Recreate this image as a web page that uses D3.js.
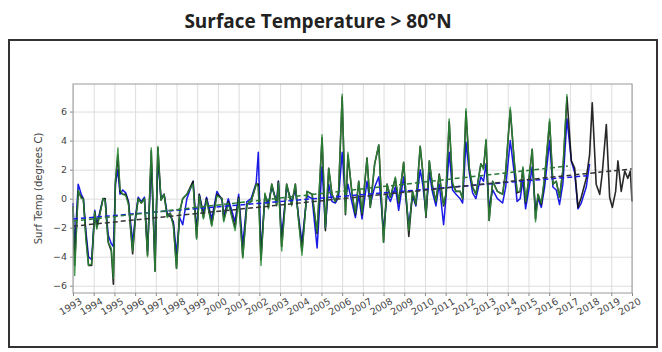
<!DOCTYPE html>
<html>
<head>
<meta charset="utf-8">
<script src="https://cdn.jsdelivr.net/npm/d3@7"></script>
<style>
  body { margin: 0; background: #fff; }
  svg { display: block; }
</style>
</head>
<body>
<div id="chart"></div>
<script>
// decimal years of the turning points
const dates = [
  1993.00, 1993.08, 1993.25, 1993.40, 1993.50, 1993.62, 1993.75, 1993.90, 1994.05, 1994.15,
  1994.30, 1994.45, 1994.55, 1994.70, 1994.85, 1994.95, 1995.05, 1995.17, 1995.27, 1995.40,
  1995.55, 1995.68, 1995.88, 1996.00, 1996.15, 1996.30, 1996.45, 1996.60, 1996.78, 1996.96,
  1997.10, 1997.25, 1997.40, 1997.55, 1997.70, 1997.85, 1998.00, 1998.15, 1998.30, 1998.50,
  1998.80, 1998.97, 1999.10, 1999.30, 1999.45, 1999.70, 1999.95, 2000.20, 2000.28, 2000.50,
  2000.83, 2001.00, 2001.20, 2001.40, 2001.60, 2001.85, 2001.95, 2002.08, 2002.27, 2002.44,
  2002.60, 2002.84, 2002.92, 2003.08, 2003.32, 2003.56, 2003.74, 2003.90, 2004.06, 2004.30,
  2004.55, 2004.79, 2005.03, 2005.19, 2005.35, 2005.51, 2005.67, 2005.83, 2006.00, 2006.16,
  2006.28, 2006.48, 2006.64, 2006.80, 2006.96, 2007.20, 2007.36, 2007.57, 2007.77, 2008.00,
  2008.17, 2008.33, 2008.57, 2008.73, 2008.97, 2009.22, 2009.40, 2009.56, 2009.77, 2009.89,
  2010.05, 2010.21, 2010.37, 2010.53, 2010.69, 2010.90, 2011.01, 2011.17, 2011.33, 2011.50,
  2011.70, 2011.82, 2011.98, 2012.14, 2012.30, 2012.46, 2012.70, 2012.83, 2012.95, 2013.10,
  2013.27, 2013.50, 2013.75, 2013.90, 2014.12, 2014.31, 2014.45, 2014.60, 2014.73, 2014.86,
  2015.05, 2015.18, 2015.34, 2015.46, 2015.62, 2015.78, 2016.02, 2016.18, 2016.34, 2016.50,
  2016.66, 2016.86, 2017.07, 2017.23, 2017.39, 2017.55, 2017.79, 2017.95, 2018.08, 2018.27,
  2018.44, 2018.56, 2018.76, 2018.92, 2019.05, 2019.21, 2019.32, 2019.48, 2019.65, 2019.80,
  2019.92, 2020.00
];

const blackSeries = [
  -0.5, -4.6, 0.5, 0.1, 0.0, -2.5, -4.6, -4.6, -0.9, -2.0,
  -1.0, 0.0, 0.0, -3.0, -3.6, -5.9, 1.2, 3.0, 0.5, 0.3,
  0.3, -0.3, -3.8, -1.6, 0.0, -0.3, 0.0, -3.9, 3.3, -5.0,
  3.5, -0.1, 0.3, -1.2, -1.0, -1.8, -4.8, -0.9, 0.0, 0.3,
  1.2, -2.7, 0.3, -1.3, 0.0, -1.8, 0.3, 0.0, -1.5, -0.2,
  -2.0, 0.1, -4.0, -0.4, -0.2, 1.0, 1.0, -4.2, 0.3, -0.6,
  1.0, -0.4, 1.2, -3.3, 1.0, -0.4, 1.0, -1.5, -3.6, 0.5,
  0.3, -2.4, 4.2, -2.2, 2.1, 0.3, -0.2, 0.5, 7.0, -1.1,
  3.0, 0.3, -1.1, 1.2, -1.1, 2.8, -0.6, 2.4, 3.7, -3.0,
  1.0, 0.1, 1.4, -0.3, 2.5, -2.6, 0.5, -0.4, 3.6, 1.9,
  -1.3, 2.6, 0.8, -0.2, 1.7, -0.5, 0.3, 5.3, 1.0, 0.5,
  0.5, 0.0, 6.0, 2.1, 0.8, 0.3, 2.4, 2.1, 4.0, -1.5,
  1.2, 0.5, 0.3, 1.9, 6.1, 2.6, 0.4, 0.5, 2.1, -0.3,
  1.7, 3.4, -1.4, 0.3, -0.4, 1.4, 5.3, 1.0, 1.2, 0.1,
  1.9, 7.0, 2.6, 2.1, -0.6, 0.1, 1.4, 3.0, 6.6, 1.0,
  0.3, 1.7, 5.1, 0.1, -0.6, 0.5, 2.6, 0.5, 1.9, 1.4,
  1.9, -0.2
];

const greenSeries = [
  -0.5, -5.3, 0.6, 0.0, 0.0, -2.8, -4.6, -4.5, -0.9, -2.1,
  -1.1, 0.0, -0.1, -3.0, -3.4, -5.5, 1.2, 3.5, 0.6, 0.3,
  0.2, -0.4, -3.6, -1.6, 0.0, -0.3, 0.0, -4.0, 3.5, -5.0,
  3.6, -0.1, 0.3, -1.3, -1.0, -1.9, -4.8, -0.9, 0.0, 0.3,
  1.0, -2.8, 0.2, -1.4, -0.1, -1.9, 0.2, 0.0, -1.6, -0.3,
  -2.2, 0.0, -4.1, -0.4, -0.2, 1.0, 0.8, -4.6, 0.4, -0.7,
  1.0, -0.5, 1.1, -3.6, 1.0, -0.5, 1.0, -1.6, -3.9, 0.5,
  0.3, -2.3, 4.4, -2.0, 2.1, 0.3, -0.2, 0.5, 7.2, -1.0,
  3.2, 0.3, -1.0, 1.2, -1.0, 2.8, -0.6, 2.4, 3.7, -3.0,
  1.0, 0.1, 1.5, -0.2, 2.5, -2.2, 0.5, -0.4, 3.6, 1.9,
  -1.2, 2.6, 0.8, -0.2, 1.6, -0.4, 0.3, 5.5, 1.1, 0.5,
  0.5, 0.0, 6.2, 2.1, 0.8, 0.3, 2.4, 2.0, 4.1, -1.5,
  1.2, 0.5, 0.3, 1.9, 6.3, 2.6, 0.5, 0.5, 2.2, -0.2,
  1.7, 3.4, -1.6, 0.3, -0.3, 1.5, 5.5, 1.0, 1.2, 0.1,
  2.0, 7.2, null, null, null, null, null, null, null, null,
  null, null, null, null, null, null, null, null, null, null,
  null, null
];

const blueSeries = [
  -0.3, -3.5, 1.0, 0.3, 0.0, -2.2, -4.0, -4.2, -0.8, -1.8,
  -0.9, 0.0, 0.0, -2.5, -3.1, -3.3, 1.0, 2.0, 0.3, 0.6,
  0.4, -0.2, -3.0, -1.4, 0.1, -0.2, 0.1, -3.6, 2.5, -4.2,
  2.8, 0.0, 0.3, -1.0, -1.2, -1.6, -3.8, -1.3, -1.8, 0.0,
  1.2, -2.2, 0.3, -1.0, 0.1, -1.4, 0.5, -0.1, -1.2, 0.0,
  -1.6, 0.3, -3.2, -0.2, 0.0, 1.1, 3.2, -3.8, 0.2, -0.3,
  0.8, -0.2, 1.2, -2.6, 0.8, -0.2, 0.6, -1.3, -3.0, 0.2,
  0.0, -3.4, 2.2, -2.0, 1.0, -0.2, -0.3, 0.1, 3.2, -0.2,
  1.0, -0.3, -1.3, 0.2, -1.4, 1.2, -0.4, 0.8, 1.5, -2.2,
  0.3, -0.2, 0.8, -0.8, 1.5, -1.8, 0.2, -0.5, 2.0, 1.0,
  -1.0, 1.8, 0.4, -0.5, 1.0, -1.8, 0.0, 3.2, 0.6, 0.3,
  0.0, -0.3, 3.9, 1.8, 0.4, 0.0, 1.5, 1.2, 2.4, -0.6,
  0.6, 0.0, -0.3, 0.8, 4.0, 1.8, -0.2, 0.0, 1.3, -0.7,
  0.9, 2.2, -0.8, 0.0, -0.6, 0.8, 4.0, 0.8, 0.6, -0.4,
  1.0, 5.5, 2.6, 1.8, -0.7, -0.3, 0.8, 2.4, null, null,
  null, null, null, null, null, null, null, null, null, null,
  null, null
];

// dashed linear trends: [start year, start value, end year, end value]
const blackTrend = [1993, -1.9, 2020, 2.05];
const greenTrend = [1993, -1.55, 2016.9, 2.25];
const blueTrend = [1993, -1.4, 2018, 1.6];

const yearTicks = d3.range(1993, 2021);
const tempTicks = [-6, -4, -2, 0, 2, 4, 6];

const width = 662, height = 352;
const plot = {left: 73, right: 632, top: 84, bottom: 293};

const svg = d3.select("#chart").append("svg")
  .attr("width", width)
  .attr("height", height);

svg.append("text")
  .attr("x", 318)
  .attr("y", 28)
  .attr("text-anchor", "middle")
  .style("font-family", "'Open Sans', sans-serif")
  .style("font-weight", "bold")
  .style("font-size", "19px")
  .attr("fill", "#222")
  .text("Surface Temperature > 80°N");

// outer frame
svg.append("rect")
  .attr("x", 9).attr("y", 40)
  .attr("width", 648).attr("height", 307)
  .attr("fill", "none")
  .attr("stroke", "#333")
  .attr("stroke-width", 2);

const x = d3.scaleLinear().domain([1993, 2020]).range([plot.left, plot.right]);
const y = d3.scaleLinear().domain([-6.5, 7.9]).range([plot.bottom, plot.top]);

const g = svg.append("g");

// grid
g.append("g")
  .attr("transform", `translate(0,${plot.bottom})`)
  .call(d3.axisBottom(x).tickValues(yearTicks).tickSize(-(plot.bottom - plot.top)).tickFormat(""))
  .call(a => a.select(".domain").remove())
  .selectAll("line").attr("stroke", "#ddd").attr("stroke-width", 1);

g.append("g")
  .attr("transform", `translate(${plot.left},0)`)
  .call(d3.axisLeft(y).tickValues(tempTicks).tickSize(-(plot.right - plot.left)).tickFormat(""))
  .call(a => a.select(".domain").remove())
  .selectAll("line").attr("stroke", "#ddd").attr("stroke-width", 1);

// tick labels
const xAxis = g.append("g")
  .attr("transform", `translate(0,${plot.bottom})`)
  .call(d3.axisBottom(x).tickValues(yearTicks).tickSize(3).tickFormat(d3.format("d")));
xAxis.select(".domain").remove();
xAxis.selectAll("line").attr("stroke", "#888");
xAxis.selectAll("text")
  .attr("fill", "#444")
  .style("font-family", "'DejaVu Sans', sans-serif")
  .style("font-size", "9.5px")
  .attr("text-anchor", "end")
  .attr("dx", "0.3em")
  .attr("dy", "0.8em")
  .attr("transform", "rotate(-30)");

const yAxis = g.append("g")
  .attr("transform", `translate(${plot.left},0)`)
  .call(d3.axisLeft(y).tickValues(tempTicks).tickSize(3).tickFormat(d3.format("d")));
yAxis.select(".domain").remove();
yAxis.selectAll("line").attr("stroke", "#888");
yAxis.selectAll("text")
  .attr("fill", "#444")
  .style("font-family", "'DejaVu Sans', sans-serif")
  .style("font-size", "9.5px");

svg.append("text")
  .attr("transform", `translate(42,${(plot.top + plot.bottom) / 2}) rotate(-90)`)
  .attr("text-anchor", "middle")
  .style("font-family", "'DejaVu Sans', sans-serif")
  .style("font-size", "10px")
  .attr("fill", "#444")
  .text("Surf Temp (degrees C)");

// series
const line = d3.line()
  .defined(d => d[1] !== null)
  .x(d => x(d[0]))
  .y(d => y(d[1]));

const series = [
  {values: blueSeries, color: "#1a1ae6", width: 1.5, opacity: 1},
  {values: blackSeries, color: "#111", width: 1.6, opacity: 0.9},
  {values: greenSeries, color: "#2a8a35", width: 1.4, opacity: 0.85}
];

series.forEach(s => {
  g.append("path")
    .datum(dates.map((t, i) => [t, s.values[i]]))
    .attr("fill", "none")
    .attr("stroke", s.color)
    .attr("stroke-width", s.width)
    .attr("stroke-opacity", s.opacity)
    .attr("stroke-linejoin", "round")
    .attr("d", line);
});

const trends = [
  {t: blueTrend, color: "#1a1ae6"},
  {t: greenTrend, color: "#2a7a35"},
  {t: blackTrend, color: "#333"}
];
trends.forEach(d => {
  g.append("line")
    .attr("x1", x(d.t[0])).attr("y1", y(d.t[1]))
    .attr("x2", x(d.t[2])).attr("y2", y(d.t[3]))
    .attr("stroke", d.color)
    .attr("stroke-width", 1.5)
    .attr("stroke-dasharray", "5,3");
});

// plot border
g.append("rect")
  .attr("x", plot.left).attr("y", plot.top)
  .attr("width", plot.right - plot.left).attr("height", plot.bottom - plot.top)
  .attr("fill", "none")
  .attr("stroke", "#999")
  .attr("stroke-width", 1);
</script>
</body>
</html>
